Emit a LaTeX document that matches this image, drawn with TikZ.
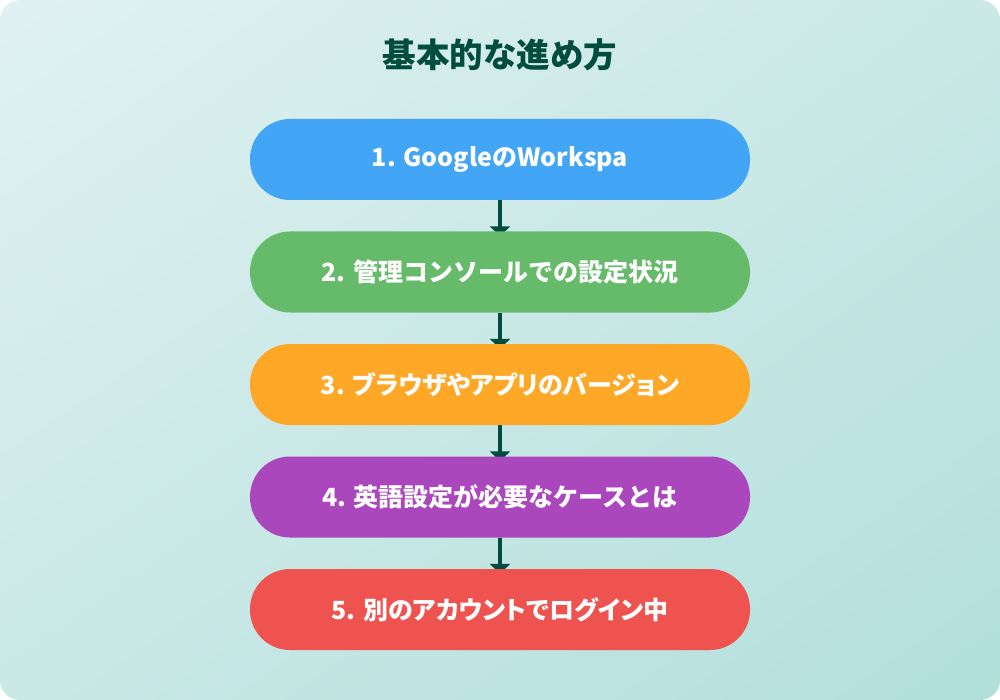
\documentclass[tikz,border=0pt]{standalone}
\usepackage{fontspec}
\setmainfont{Noto Sans CJK JP}
\newfontfamily\jpp{Noto Sans CJK JP}[RawFeature=+palt]
\usetikzlibrary{arrows.meta,positioning,shadings}
\definecolor{bgA}{HTML}{E0F2F1}
\definecolor{bgM}{HTML}{C9E8E6}
\definecolor{bgB}{HTML}{B2DFDB}
\definecolor{ink}{HTML}{004D40}
\definecolor{cblue}{HTML}{42A5F5}
\definecolor{cgreen}{HTML}{66BB6A}
\definecolor{corange}{HTML}{FFA726}
\definecolor{cpurple}{HTML}{AB47BC}
\definecolor{cred}{HTML}{EF5350}
\pgfdeclarelayer{back}
\pgfdeclarelayer{arrows}
\pgfsetlayers{back,arrows,main}
\tikzset{
  stepbox/.style={rounded corners=40pt, minimum width=500pt, minimum height=81pt,
    inner sep=0pt, text=white, font=\bfseries\fontsize{25pt}{30pt}\selectfont},
  flow/.style={draw=ink, line width=4pt, -{Triangle[width=20pt,length=10pt]}, shorten >=-5pt}
}
\begin{document}
\begin{tikzpicture}[x=1pt,y=-1pt]
\begin{pgfonlayer}{back}
\fill[white] (0,0) rectangle (1000,700);
\shade[rounded corners=20pt, upper left=bgA, upper right=bgM, lower left=bgM, lower right=bgB] (0,0) rectangle (1000,700);
\end{pgfonlayer}
\useasboundingbox (0,0) rectangle (1000,700);
\node[text=ink, font=\bfseries\fontsize{33.5pt}{40pt}\selectfont] (title) at (500,55) {基本的な進め方};
\node[stepbox, fill=cblue] (s1) at (500,159.5) {1. GoogleのWorkspa};
\node[stepbox, fill=cgreen] (s2) at (500,272) {2. 管理コンソールでの設定状況};
\node[stepbox, fill=corange] (s3) at (500,384.5) {\jpp\bfseries 3. ブラウザやアプリのバージョン};
\node[stepbox, fill=cpurple] (s4) at (500,497) {4. 英語設定が必要なケースとは};
\node[stepbox, fill=cred] (s5) at (500,609.5) {\jpp\bfseries 5. 別のアカウントでログイン中};
\begin{pgfonlayer}{arrows}
\draw[flow] (s1.south) -- (s2.north);
\draw[flow] (s2.south) -- (s3.north);
\draw[flow] (s3.south) -- (s4.north);
\draw[flow] (s4.south) -- (s5.north);
\end{pgfonlayer}
\end{tikzpicture}
\end{document}
